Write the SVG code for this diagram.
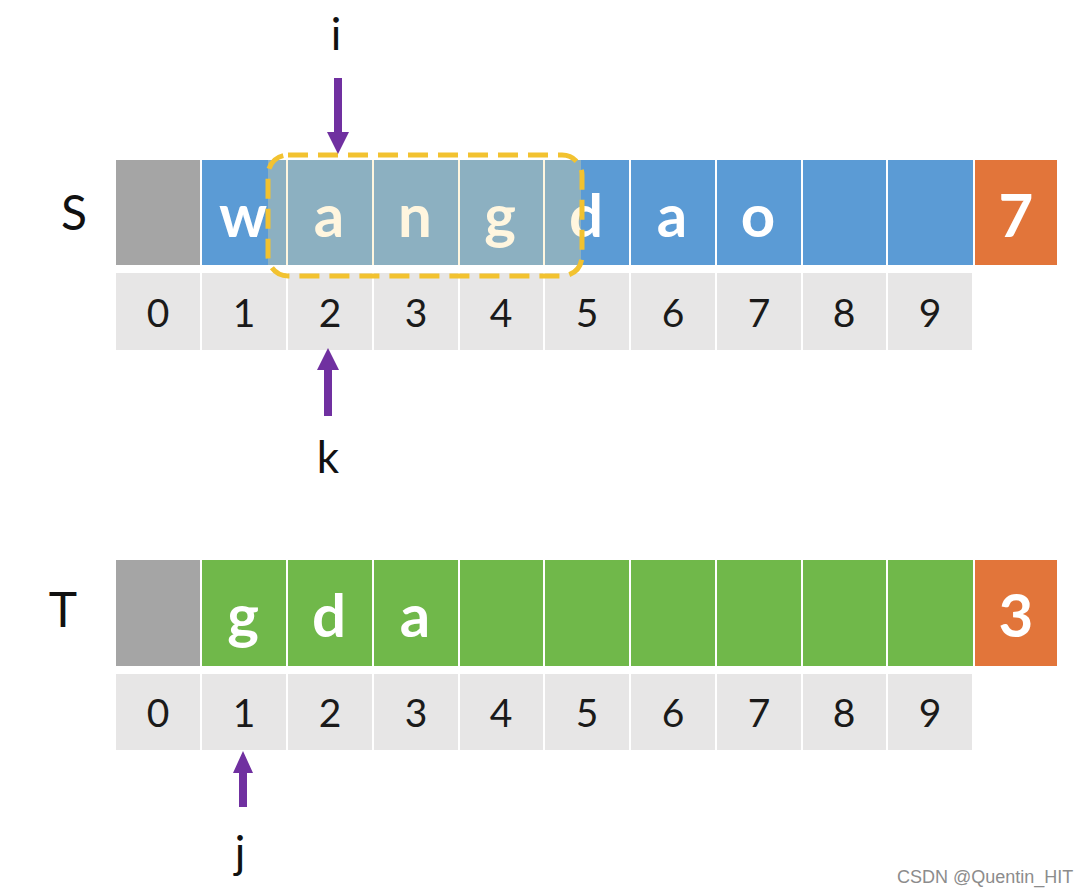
<svg xmlns="http://www.w3.org/2000/svg" width="1090" height="896" viewBox="0 0 1090 896">
<defs>
<style>
.gray{fill:#A5A5A5}
.blue{fill:#5B9BD5}
.green{fill:#70B84A}
.orange{fill:#E2753A}
.idx{fill:#E7E6E6}
.ch{font-family:Lato,"Open Sans",sans-serif;font-weight:bold;font-size:60px;fill:#FFFFFF;text-anchor:middle}
.num{font-family:Lato,"Open Sans",sans-serif;font-size:39px;fill:#1A1A1A;text-anchor:middle}
.lbl{font-family:Lato,"Open Sans",sans-serif;font-size:48px;fill:#111111;text-anchor:middle}
.ptr{font-family:Lato,"Open Sans",sans-serif;font-size:44px;fill:#111111;text-anchor:middle}
.arrow{fill:#7030A0}
.wm{font-family:"Liberation Sans",Arial,sans-serif;font-size:18px;fill:#8C8C8C}
</style>
</defs>
<rect width="1090" height="896" fill="#FFFFFF"/>

<g id="S-array">
<text class="lbl" x="74" y="230">S</text>
<rect class="gray" x="116" y="160" width="84" height="105"/>
<rect class="blue" x="202" y="160" width="84" height="105"/>
<rect class="blue" x="288" y="160" width="84" height="105"/>
<rect class="blue" x="374" y="160" width="84" height="105"/>
<rect class="blue" x="460" y="160" width="83" height="105"/>
<rect class="blue" x="545" y="160" width="84" height="105"/>
<rect class="blue" x="631" y="160" width="84" height="105"/>
<rect class="blue" x="717" y="160" width="84" height="105"/>
<rect class="blue" x="803" y="160" width="83" height="105"/>
<rect class="blue" x="888" y="160" width="85" height="105"/>
<rect class="orange" x="975" y="160" width="82" height="105"/>
<text class="ch" x="243" y="237">w</text>
<text class="ch" x="329" y="237">a</text>
<text class="ch" x="415" y="237">n</text>
<text class="ch" x="500" y="237">g</text>
<text class="ch" x="586" y="237">d</text>
<text class="ch" x="672" y="237">a</text>
<text class="ch" x="758" y="237">o</text>
<text class="ch" x="1016" y="237">7</text>
</g>

<g id="S-index">
<rect class="idx" x="116" y="273" width="84" height="77"/>
<rect class="idx" x="202" y="273" width="84" height="77"/>
<rect class="idx" x="288" y="273" width="84" height="77"/>
<rect class="idx" x="374" y="273" width="84" height="77"/>
<rect class="idx" x="460" y="273" width="83" height="77"/>
<rect class="idx" x="545" y="273" width="84" height="77"/>
<rect class="idx" x="631" y="273" width="84" height="77"/>
<rect class="idx" x="717" y="273" width="84" height="77"/>
<rect class="idx" x="803" y="273" width="83" height="77"/>
<rect class="idx" x="888" y="273" width="84" height="77"/>
<text class="num" x="158" y="327">0</text>
<text class="num" x="244" y="327">1</text>
<text class="num" x="330" y="327">2</text>
<text class="num" x="416" y="327">3</text>
<text class="num" x="501" y="327">4</text>
<text class="num" x="587" y="327">5</text>
<text class="num" x="673" y="327">6</text>
<text class="num" x="759" y="327">7</text>
<text class="num" x="844" y="327">8</text>
<text class="num" x="930" y="327">9</text>
</g>

<g id="window">
<rect x="268" y="160" width="313" height="105" fill="#FFE196" fill-opacity="0.3"/>
<rect x="268" y="155" width="314" height="121" rx="20" ry="20" fill="none" stroke="#F2C230" stroke-width="5" stroke-dasharray="20 10"/>
</g>

<g id="T-array">
<text class="lbl" x="63" y="627">T</text>
<rect class="gray" x="116" y="560" width="84" height="106"/>
<rect class="green" x="202" y="560" width="84" height="106"/>
<rect class="green" x="288" y="560" width="84" height="106"/>
<rect class="green" x="374" y="560" width="84" height="106"/>
<rect class="green" x="460" y="560" width="83" height="106"/>
<rect class="green" x="545" y="560" width="84" height="106"/>
<rect class="green" x="631" y="560" width="84" height="106"/>
<rect class="green" x="717" y="560" width="84" height="106"/>
<rect class="green" x="803" y="560" width="83" height="106"/>
<rect class="green" x="888" y="560" width="85" height="106"/>
<rect class="orange" x="975" y="560" width="82" height="106"/>
<text class="ch" x="243" y="637">g</text>
<text class="ch" x="329" y="637">d</text>
<text class="ch" x="415" y="637">a</text>
<text class="ch" x="1016" y="637">3</text>
</g>

<g id="T-index">
<rect class="idx" x="116" y="674" width="84" height="76"/>
<rect class="idx" x="202" y="674" width="84" height="76"/>
<rect class="idx" x="288" y="674" width="84" height="76"/>
<rect class="idx" x="374" y="674" width="84" height="76"/>
<rect class="idx" x="460" y="674" width="83" height="76"/>
<rect class="idx" x="545" y="674" width="84" height="76"/>
<rect class="idx" x="631" y="674" width="84" height="76"/>
<rect class="idx" x="717" y="674" width="84" height="76"/>
<rect class="idx" x="803" y="674" width="83" height="76"/>
<rect class="idx" x="888" y="674" width="84" height="76"/>
<text class="num" x="158" y="727">0</text>
<text class="num" x="244" y="727">1</text>
<text class="num" x="330" y="727">2</text>
<text class="num" x="416" y="727">3</text>
<text class="num" x="501" y="727">4</text>
<text class="num" x="587" y="727">5</text>
<text class="num" x="673" y="727">6</text>
<text class="num" x="759" y="727">7</text>
<text class="num" x="844" y="727">8</text>
<text class="num" x="930" y="727">9</text>
</g>

<g id="connectors">
<polygon class="arrow" points="334,78 342,78 342,132 349,132 338,154 327,132 334,132"/>
<polygon class="arrow" points="328,348 339,370 332,370 332,416 324,416 324,370 317,370"/>
<polygon class="arrow" points="243,751 253,773 247,773 247,807 239,807 239,773 233,773"/>
</g>

<g id="pointer-i"><text class="ptr" x="336" y="50">i</text></g>
<g id="pointer-k"><text class="ptr" x="328" y="473">k</text></g>
<g id="pointer-j"><text class="ptr" x="240" y="868">j</text></g>

<text class="wm" x="897" y="883">CSDN @Quentin_HIT</text>
</svg>
